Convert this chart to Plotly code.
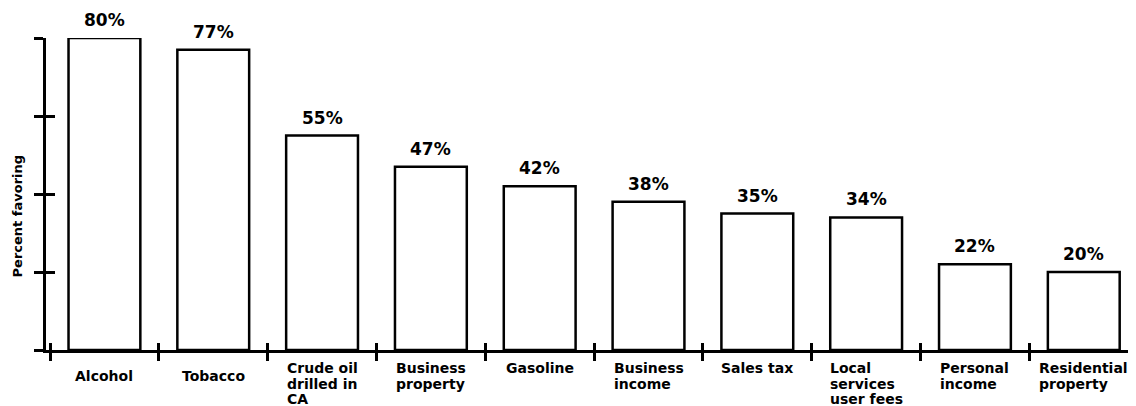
import plotly.graph_objects as go

categories = ["Alcohol", "Tobacco", "Crude oil<br>drilled in<br>CA", "Business<br>property",
              "Gasoline", "Business<br>income", "Sales tax", "Local<br>services<br>user fees",
              "Personal<br>income", "Residential<br>property"]
values = [80, 77, 55, 47, 42, 38, 35, 34, 22, 20]
value_labels = ["80%", "77%", "55%", "47%", "42%", "38%", "35%", "34%", "22%", "20%"]
y_ticks = [0, 20, 40, 60, 80]
y_title = "Percent favoring"

FONT = "DejaVu Sans"
xs = list(range(len(categories)))
boundaries = [i - 0.5 for i in range(len(categories) + 1)]
# in the original, the first two category labels sit a little lower than the rest
label_yshift = [-16, -16] + [-8] * (len(categories) - 2)


def big_lines(label, px):
    return "<br>".join('<span style="font-size:%dpx"><b>%s</b></span>' % (px, part)
                       for part in label.split("<br>"))


fig = go.Figure()
fig.add_trace(go.Bar(
    x=xs, y=values, width=0.66,
    marker=dict(color="white", line=dict(color="black", width=2.5)),
    hoverinfo="skip", showlegend=False,
))
fig.add_trace(go.Scatter(x=[xs[0]], y=[values[0]], xaxis="x2", yaxis="y2",
                         mode="markers", marker=dict(opacity=0), showlegend=False,
                         hoverinfo="skip"))

xr = [-0.537, 9.48]
yr = [0, 80]

annotations = []
for x, v, t in zip(xs, values, value_labels):
    annotations.append(dict(x=x, y=v, xref="x", yref="y", text="<b>%s</b>" % t,
                            showarrow=False, yanchor="bottom", yshift=6,
                            font=dict(family=FONT, size=17, color="black")))
for x, c, ys in zip(xs, categories, label_yshift):
    annotations.append(dict(x=x, y=0, xref="x", yref="y", text=big_lines(c, 14),
                            showarrow=False, yanchor="top", yshift=ys, xanchor="center",
                            align="left",
                            font=dict(family=FONT, size=12, color="black")))
annotations.append(dict(x=0, y=0.428, xref="paper", yref="paper", xanchor="center",
                        xshift=-29, text="<b>%s</b>" % y_title, textangle=-90,
                        showarrow=False, font=dict(family=FONT, size=13, color="black")))

fig.update_layout(
    width=1128, height=398,
    margin=dict(l=38, r=0, t=30, b=56),
    plot_bgcolor="white", paper_bgcolor="white",
    xaxis=dict(range=xr, tickvals=boundaries, ticks="outside", ticklen=8, tickwidth=2.5,
               tickcolor="black", showticklabels=False, showline=True, linecolor="black",
               linewidth=3, showgrid=False, zeroline=False, fixedrange=True),
    yaxis=dict(range=yr, tickvals=y_ticks, ticks="outside", ticklen=9, tickwidth=2.5,
               tickcolor="black", showticklabels=False, showline=True, linecolor="black",
               linewidth=2.5, showgrid=False, zeroline=False, fixedrange=True),
    xaxis2=dict(range=xr, overlaying="x", tickvals=boundaries, ticks="inside", ticklen=7,
                tickwidth=2.5, tickcolor="black", showticklabels=False, showline=False,
                showgrid=False, zeroline=False, side="bottom", fixedrange=True),
    yaxis2=dict(range=yr, overlaying="y", tickvals=y_ticks, ticks="inside", ticklen=9,
                tickwidth=2.5, tickcolor="black", showticklabels=False, showline=False,
                showgrid=False, zeroline=False, side="left", fixedrange=True),
    annotations=annotations,
)

fig.write_html("out.html")
